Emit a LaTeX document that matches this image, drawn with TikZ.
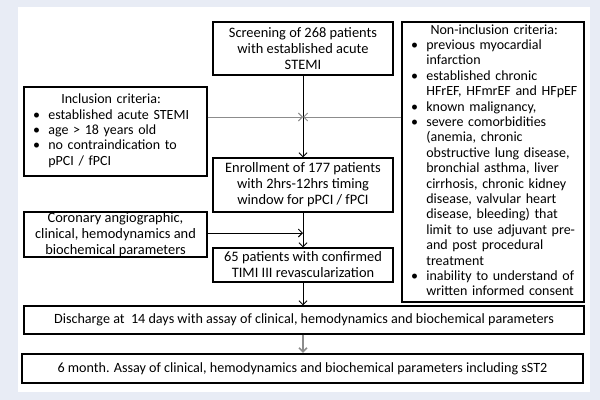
\documentclass[tikz,border=0pt]{standalone}
\usepackage{fontspec}
\setmainfont{Carlito}
\usetikzlibrary{arrows.meta}
\definecolor{Page}{HTML}{E8ECF5}
\definecolor{Link}{HTML}{8C8C8C}
\newcommand{\bul}{\makebox[11.5pt][l]{\textbullet}}

\begin{document}
\begin{tikzpicture}[x=.75pt,y=-.75pt,
    box/.style={draw,line width=.9pt,inner sep=0pt,align=center,font=\fontsize{10.8}{12}\selectfont},
    crit/.style={box,align=left,inner xsep=6.75pt,font=\fontsize{10.5}{11.55}\selectfont},
    link/.style={-{Straight Barb[length=3pt,width=6pt]},line width=.7pt}]
  \fill[Page](0,0)rectangle(600,400);
  \fill[white](18,7)rectangle(590,392);
  % main column
  \node[box,minimum width=135pt,minimum height=39.75pt](scr)at(303,48.5){Screening of 268 patients\\with established acute\\STEMI};
  \node[box,minimum width=135pt,minimum height=40.5pt](enr)at(303,185){Enrollment of 177 patients\\with 2hrs-12hrs timing\\window for pPCI / fPCI};
  \node[box,minimum width=135pt,minimum height=25.5pt](conf)at(303,265){65 patients with confirmed\\TIMI III revascularization};
  \node[box,font=\fontsize{10.6}{12}\selectfont,minimum width=420pt,minimum height=21pt](disch)at(304,320){Discharge at\ \ 14 days with assay of clinical, hemodynamics and biochemical parameters};
  \node[box,font=\fontsize{10.6}{12}\selectfont,line width=1.6pt,minimum width=420.75pt,minimum height=21.75pt](month)at(302.5,368.5){6 month. Assay of clinical, hemodynamics and biochemical parameters including sST2};
  % side boxes
  \node[crit,text width=123.75pt,minimum height=66.75pt](incl)at(115.5,131.5){%
    \begin{tabular}{@{}l@{}l@{}}
      \multicolumn{2}{c}{Inclusion criteria:}\\
      \bul&established acute STEMI\\
      \bul&age > 18 years old\\
      \bul&no contraindication to\\
      &pPCI / fPCI
    \end{tabular}};
  \node[box,minimum width=137.25pt,minimum height=33.75pt](coro)at(115.5,234.5){Coronary angiographic,\\clinical, hemodynamics and\\biochemical parameters};
  \node[crit,text width=123pt,minimum height=210pt](nonin)at(493,162){%
    \begin{tabular}{@{}l@{}l@{}}
      \multicolumn{2}{c}{Non-inclusion criteria:}\\
      \bul&previous myocardial\\
      &infarction\\
      \bul&established chronic\\
      &HFrEF, HFmrEF and HFpEF\\
      \bul&known malignancy,\\
      \bul&severe comorbidities\\
      &(anemia, chronic\\
      &obstructive lung disease,\\
      &bronchial asthma, liver\\
      &cirrhosis, chronic kidney\\
      &disease, valvular heart\\
      &disease, bleeding) that\\
      &limit to use adjuvant pre-\\
      &and post procedural\\
      &treatment\\
      \bul&inability to understand of\\
      &written informed consent
    \end{tabular}};
  % connectors
  \coordinate(join)at(303,117);
  \draw[link](scr)--(enr);
  \draw[link,Link](incl.east|-join)--(join);
  \draw[link,Link](nonin.west|-join)--(join);
  \draw[link](enr)--(conf);
  \draw[link](coro.east|-303,233)--(303,233);
  \draw[link](conf.south)--(conf.south|-disch.north);
  \draw[link,Link,line width=1.2pt](disch.south-|conf)--(month.north-|conf);
\end{tikzpicture}
\end{document}
